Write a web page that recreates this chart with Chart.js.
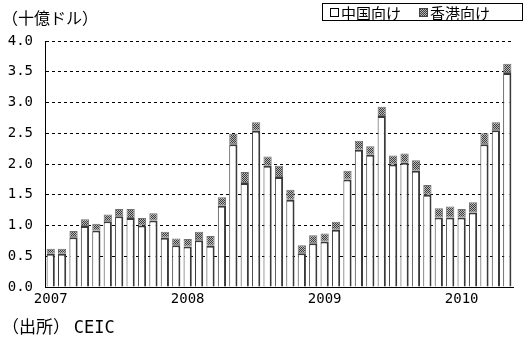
<!DOCTYPE html>
<html><head><meta charset="utf-8">
<script src="https://cdn.jsdelivr.net/npm/chart.js@4/dist/chart.umd.min.js"></script>
<style>
html,body{margin:0;padding:0;background:#fff;}
#wrap{position:relative;width:531px;height:350px;overflow:hidden;font-family:"Noto Sans CJK JP","Noto Sans",sans-serif;color:#000;}
#c{position:absolute;left:0;top:0;}
.t{position:absolute;white-space:nowrap;font-size:16px;line-height:1;}
#legend{position:absolute;left:322px;top:3px;width:201px;height:18px;border:1px solid #000;box-sizing:border-box;font-size:15px;line-height:15px;display:flex;align-items:center;padding-left:7px;}
.sw{display:inline-block;width:9px;height:9px;border:1px solid #000;margin-right:2px;box-sizing:border-box;}
</style></head>
<body><div id="wrap">
<canvas id="c" width="531" height="350"></canvas>
<div class="t" style="left:2px;top:9px;">（十億ドル）</div>
<div id="legend"><span class="sw" style="background:#fff"></span><span>中国向け</span><span style="display:inline-block;width:18px"></span><span class="sw" id="hsw" style="border-color:#444"></span><span>香港向け</span></div>
<div class="t" style="left:2px;top:317px;font-size:17px;">（出所） <span style="font-family:'DejaVu Sans Mono';font-size:17px;">CEIC</span></div>
</div>
<script>
const months = [];
for (let y = 2007; y <= 2010; y++) for (let m = 1; m <= 12; m++) { if (y === 2010 && m > 5) break; months.push(y + '-' + String(m).padStart(2,'0')); }
const seriesNames = ['中国向け', '香港向け'];
const chinaValues = [0.54,0.54,0.81,0.99,0.92,1.07,1.15,1.12,1.00,1.08,0.80,0.68,
  0.66,0.76,0.67,1.32,2.32,1.69,2.54,1.97,1.79,1.42,0.55,0.71,
  0.74,0.93,1.75,2.23,2.15,2.78,1.99,2.02,1.89,1.50,1.13,1.13,
  1.13,1.21,2.32,2.55,3.48];
const hongKongValues = [0.08,0.08,0.10,0.11,0.11,0.11,0.12,0.15,0.12,0.12,0.10,0.11,
  0.12,0.14,0.16,0.14,0.17,0.18,0.14,0.15,0.18,0.16,0.13,0.13,
  0.13,0.13,0.14,0.15,0.14,0.15,0.15,0.15,0.17,0.16,0.15,0.18,
  0.14,0.17,0.18,0.13,0.15];
const yTicks = ['0.0','0.5','1.0','1.5','2.0','2.5','3.0','3.5','4.0'];

function makePattern(){
  const p = document.createElement('canvas'); p.width = 2; p.height = 2;
  const g = p.getContext('2d');
  g.fillStyle = '#b8b8b8'; g.fillRect(0,0,2,2);
  g.fillStyle = '#3c3c3c'; g.fillRect(0,0,1,1); g.fillRect(1,1,1,1);
  return p;
}
const patCanvas = makePattern();
document.getElementById('hsw').style.background = 'url(' + patCanvas.toDataURL() + ')';
const pattern = document.getElementById('c').getContext('2d').createPattern(patCanvas, 'repeat');

const tickFont = {family: 'DejaVu Sans Mono', size: 14};
new Chart(document.getElementById('c'), {
  type: 'bar',
  data: {
    labels: months,
    datasets: [
      {label: seriesNames[0], data: chinaValues, backgroundColor: '#ffffff', borderColor: '#3a3a3a',
       borderWidth: {left:1, right:2, top:2, bottom:0}, borderSkipped: false},
      {label: seriesNames[1], data: hongKongValues, backgroundColor: pattern, borderColor: '#707070',
       borderWidth: 1, borderSkipped: false}
    ]
  },
  options: {
    responsive: false, animation: false,
    layout: {padding: {top: 41, right: 18, left: 0, bottom: 0}},
    plugins: {legend: {display: false}, tooltip: {enabled: false}},
    datasets: {bar: {categoryPercentage: 1.0, barPercentage: 0.72}},
    scales: {
      x: {
        stacked: true,
        afterFit: s => { s.height = 63; },
        grid: {display: false, drawTicks: false},
        border: {display: true, color: '#000', width: 1},
        ticks: {autoSkip: false, maxRotation: 0, padding: 4, color: '#000', font: tickFont,
          callback: (v, i) => months[i].endsWith('-01') ? months[i].slice(0,4) : ''}
      },
      y: {
        stacked: true, min: 0, max: 4,
        afterFit: s => { s.width = 45; },
        grid: {color: '#000', lineWidth: 1, drawTicks: false},
        border: {display: true, color: '#000', width: 1, dash: [3,3]},
        ticks: {stepSize: 0.5, padding: 12, color: '#000', font: tickFont,
          callback: (v) => yTicks[Math.round(v * 2)]}
      }
    }
  }
});
</script>
</body></html>
